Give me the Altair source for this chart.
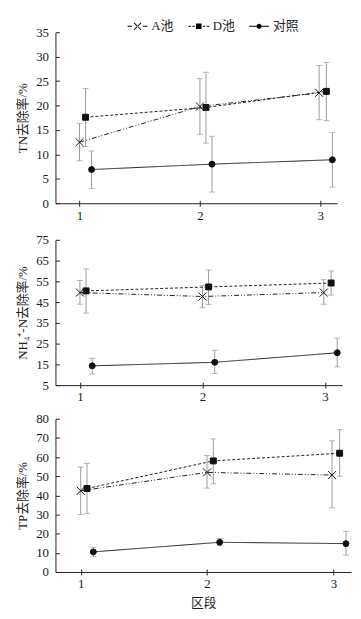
import altair as alt
import pandas as pd

SERIES = ["A池", "D池", "对照"]
SEGMENTS = [1, 2, 3]

# marker x-positions (slightly offset per series, as in the figure)
x_A = [1.0, 2.0, 2.99]
x_D = [1.05, 2.05, 3.05]
x_C = [1.1, 2.1, 3.1]

# TN removal rate (%)
tn_A = [12.5, 19.8, 22.6]
tn_A_lo = [8.7, 14.1, 17.1]
tn_A_hi = [16.3, 25.5, 28.2]
tn_D = [17.6, 19.6, 22.9]
tn_D_lo = [11.6, 12.3, 16.9]
tn_D_hi = [23.5, 26.8, 28.8]
tn_C = [6.9, 8.0, 8.9]
tn_C_lo = [3.0, 2.3, 3.3]
tn_C_hi = [10.7, 13.7, 14.5]

# NH4+-N removal rate (%)
nh_A = [49.6, 47.7, 49.6]
nh_A_lo = [44.0, 42.3, 44.0]
nh_A_hi = [55.4, 53.0, 55.8]
nh_D = [50.4, 52.3, 54.2]
nh_D_lo = [39.7, 43.9, 48.4]
nh_D_hi = [61.0, 60.5, 60.0]
nh_C = [14.3, 16.0, 20.6]
nh_C_lo = [10.3, 10.6, 13.8]
nh_C_hi = [17.9, 21.8, 27.6]

# TP removal rate (%)
tp_A = [42.4, 52.0, 50.6]
tp_A_lo = [30.0, 43.8, 33.5]
tp_A_hi = [54.8, 60.8, 68.5]
tp_D = [43.6, 58.0, 62.0]
tp_D_lo = [30.6, 46.0, 50.0]
tp_D_hi = [56.7, 69.5, 74.3]
tp_C = [10.5, 15.5, 14.8]
tp_C_lo = [8.0, 13.7, 8.8]
tp_C_hi = [12.9, 17.5, 21.2]

FONT = "Liberation Serif, Noto Sans CJK SC"
INK = "#222"
ERR = "#9a9a9a"

XPATH = "M-1.35,-1.35L1.35,1.35M-1.35,1.35L1.35,-1.35"


def seg(a, b, t=0.05):
    return f"M{a},{-t}H{b}V{t}H{a}Z"


CROSS_FILLED = ("M-0.315,-0.385L0.385,0.315L0.315,0.385L-0.385,-0.315Z"
                "M-0.315,0.385L0.385,-0.315L0.315,-0.385L-0.385,0.315Z")
LEG_PATHS = [
    seg(-1, -0.55) + CROSS_FILLED + seg(0.55, 1),
    seg(-1.05, -0.8) + seg(-0.65, -0.4) + "M-0.28,-0.28H0.28V0.28H-0.28Z"
    + seg(0.4, 0.65) + seg(0.8, 1.05),
    seg(-1, 1) + "M0.26,0A0.26,0.26 0 1,1 -0.26,0A0.26,0.26 0 1,1 0.26,0Z",
]


def build_df(vals, los, his):
    rows = []
    for s, xs, v, lo, hi in zip(SERIES, [x_A, x_D, x_C], vals, los, his):
        for i in range(len(SEGMENTS)):
            rows.append(dict(series=s, x=xs[i], v=v[i], lo=lo[i], hi=hi[i]))
    return pd.DataFrame(rows)


def panel(df, ytitle, ydom, yticks, w, h, xtitle=None, legend=False):
    xs = alt.Scale(domain=[0.8, 3.14], nice=False, zero=False)
    ys = alt.Scale(domain=ydom, nice=False, zero=False)
    base = alt.Chart(df)
    xaxis = alt.Axis(values=SEGMENTS, format="d", title=xtitle, tickSize=3,
                     labelPadding=3, titlePadding=6, labelFlush=False,
                     labelOverlap=False)
    yaxis = alt.Axis(values=yticks, title=ytitle, tickSize=0, labelPadding=7,
                     titlePadding=6, labelFlush=False, labelOverlap=False)
    X = alt.X("x:Q", scale=xs, axis=xaxis)

    def Y(f):
        return alt.Y(f, scale=ys, axis=yaxis)

    err = base.mark_rule(color=ERR, strokeWidth=1).encode(x=X, y=Y("lo:Q"), y2="hi:Q")
    cap_lo = base.mark_tick(color=ERR, thickness=1, size=6, orient="horizontal").encode(
        x=X, y=Y("lo:Q"))
    cap_hi = base.mark_tick(color=ERR, thickness=1, size=6, orient="horizontal").encode(
        x=X, y=Y("hi:Q"))
    line = base.mark_line(color=INK, strokeWidth=1).encode(
        x=X, y=Y("v:Q"),
        strokeDash=alt.StrokeDash("series:N", scale=alt.Scale(
            domain=SERIES, range=[[5, 2, 1, 2, 1, 2], [3, 2], [1, 0]]), legend=None),
        order="x:Q",
    )
    layers = [err, cap_lo, cap_hi, line]
    if legend:
        leg = base.mark_point(filled=True, fill="black", opacity=1).encode(
            shape=alt.Shape("series:N", scale=alt.Scale(domain=SERIES, range=LEG_PATHS),
                            legend=alt.Legend(title=None, orient="none", legendX=72,
                                              legendY=-17, direction="horizontal",
                                              symbolSize=400, labelOffset=3,
                                              columnPadding=11, padding=0,
                                              labelFont=FONT, labelFontSize=13,
                                              labelColor=INK, symbolOpacity=1,
                                              symbolFillColor="black")),
        ).transform_filter("false")
        layers.append(leg)
    inner = alt.layer(*layers)
    pts = base.mark_point(filled=True, fill="#111", stroke="#111", strokeWidth=1,
                          size=36, opacity=1).encode(
        x=alt.X("x:Q", scale=xs, axis=alt.Axis(orient="top", offset=-h, values=SEGMENTS,
                                               labels=False, domain=False, tickSize=3,
                                               title=None)),
        y=alt.Y("v:Q", scale=ys, axis=alt.Axis(orient="right", offset=-w, values=yticks,
                                               labels=False, domain=False, tickSize=4,
                                               title=None)),
        shape=alt.Shape("series:N", scale=alt.Scale(domain=SERIES,
                                                     range=[XPATH, "square", "circle"]),
                        legend=None),
    )
    return alt.layer(inner, pts).resolve_scale(
        x="independent", y="independent", shape="independent"
    ).properties(width=w, height=h)


df_tn = build_df([tn_A, tn_D, tn_C], [tn_A_lo, tn_D_lo, tn_C_lo], [tn_A_hi, tn_D_hi, tn_C_hi])
df_nh = build_df([nh_A, nh_D, nh_C], [nh_A_lo, nh_D_lo, nh_C_lo], [nh_A_hi, nh_D_hi, nh_C_hi])
df_tp = build_df([tp_A, tp_D, tp_C], [tp_A_lo, tp_D_lo, tp_C_lo], [tp_A_hi, tp_D_hi, tp_C_hi])

p1 = panel(df_tn, "TN去除率/%", [0, 35], list(range(0, 36, 5)), 285, 173, legend=True)
p2 = panel(df_nh, "NH\u2084\u207a-N去除率/%", [5, 75], list(range(5, 76, 10)), 290, 147)
p3 = panel(df_tp, "TP去除率/%", [0, 80], list(range(0, 81, 10)), 299, 155, xtitle="区段")

chart = alt.vconcat(alt.vconcat(p1, p2, spacing=12), p3, spacing=9).properties(
    padding={"left": 9, "top": 4, "right": 2, "bottom": 2}
).configure_view(stroke=None).configure_axis(
    domainColor=INK, tickColor=INK, labelColor=INK, titleColor=INK,
    labelFont=FONT, titleFont=FONT, labelFontSize=13, titleFontSize=13,
    titleFontWeight="normal", grid=False, domainWidth=1, tickWidth=1,
)

chart.save("out.html", embed_options={"renderer": "svg", "actions": False})
